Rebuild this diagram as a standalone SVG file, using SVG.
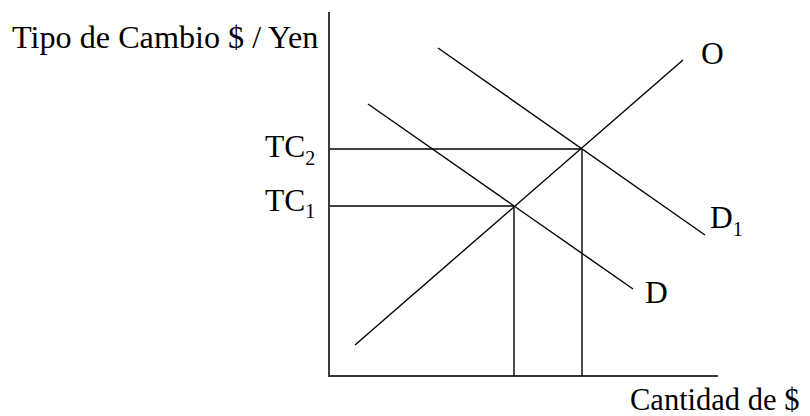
<svg xmlns="http://www.w3.org/2000/svg" width="810" height="416" viewBox="0 0 810 416">
<style>
.t{font-family:"Liberation Serif","Times New Roman",serif;font-size:31.5px;fill:#000}
.s{font-size:20px}
.ax{stroke:#3a3a3a;stroke-width:2;fill:none}
.ln{stroke:#000;stroke-width:1.4;fill:none}
</style>
<rect width="810" height="416" fill="#fff"/>
<g id="axes">
<line class="ax" x1="329" y1="12" x2="329" y2="377"/>
<line class="ax" x1="328" y1="376" x2="718" y2="376"/>
</g>
<g id="connectors">
<line class="ln" x1="355" y1="345" x2="683" y2="60"/>
<line class="ln" x1="438" y1="48" x2="705" y2="235"/>
<line class="ln" x1="368" y1="104" x2="633" y2="289"/>
<line class="ln" x1="330" y1="149" x2="582" y2="149"/>
<line class="ln" x1="330" y1="206" x2="514" y2="206"/>
<line class="ln" x1="514" y1="206" x2="514" y2="376"/>
<line class="ln" x1="582" y1="149" x2="582" y2="376"/>
</g>
<g id="label-y"><text class="t" x="12" y="48" style="font-size:32.2px">Tipo de Cambio $ / Yen</text></g>
<g id="label-x"><text class="t" x="630" y="410" style="font-size:30.5px">Cantidad de $</text></g>
<g id="label-tc2"><text class="t" x="265" y="157">TC<tspan class="s" dy="8">2</tspan></text></g>
<g id="label-tc1"><text class="t" x="265" y="211">TC<tspan class="s" dy="7">1</tspan></text></g>
<g id="label-o"><text class="t" x="701" y="64">O</text></g>
<g id="label-d1"><text class="t" x="710" y="228">D<tspan class="s" dy="8">1</tspan></text></g>
<g id="label-d"><text class="t" x="645" y="303">D</text></g>
</svg>
